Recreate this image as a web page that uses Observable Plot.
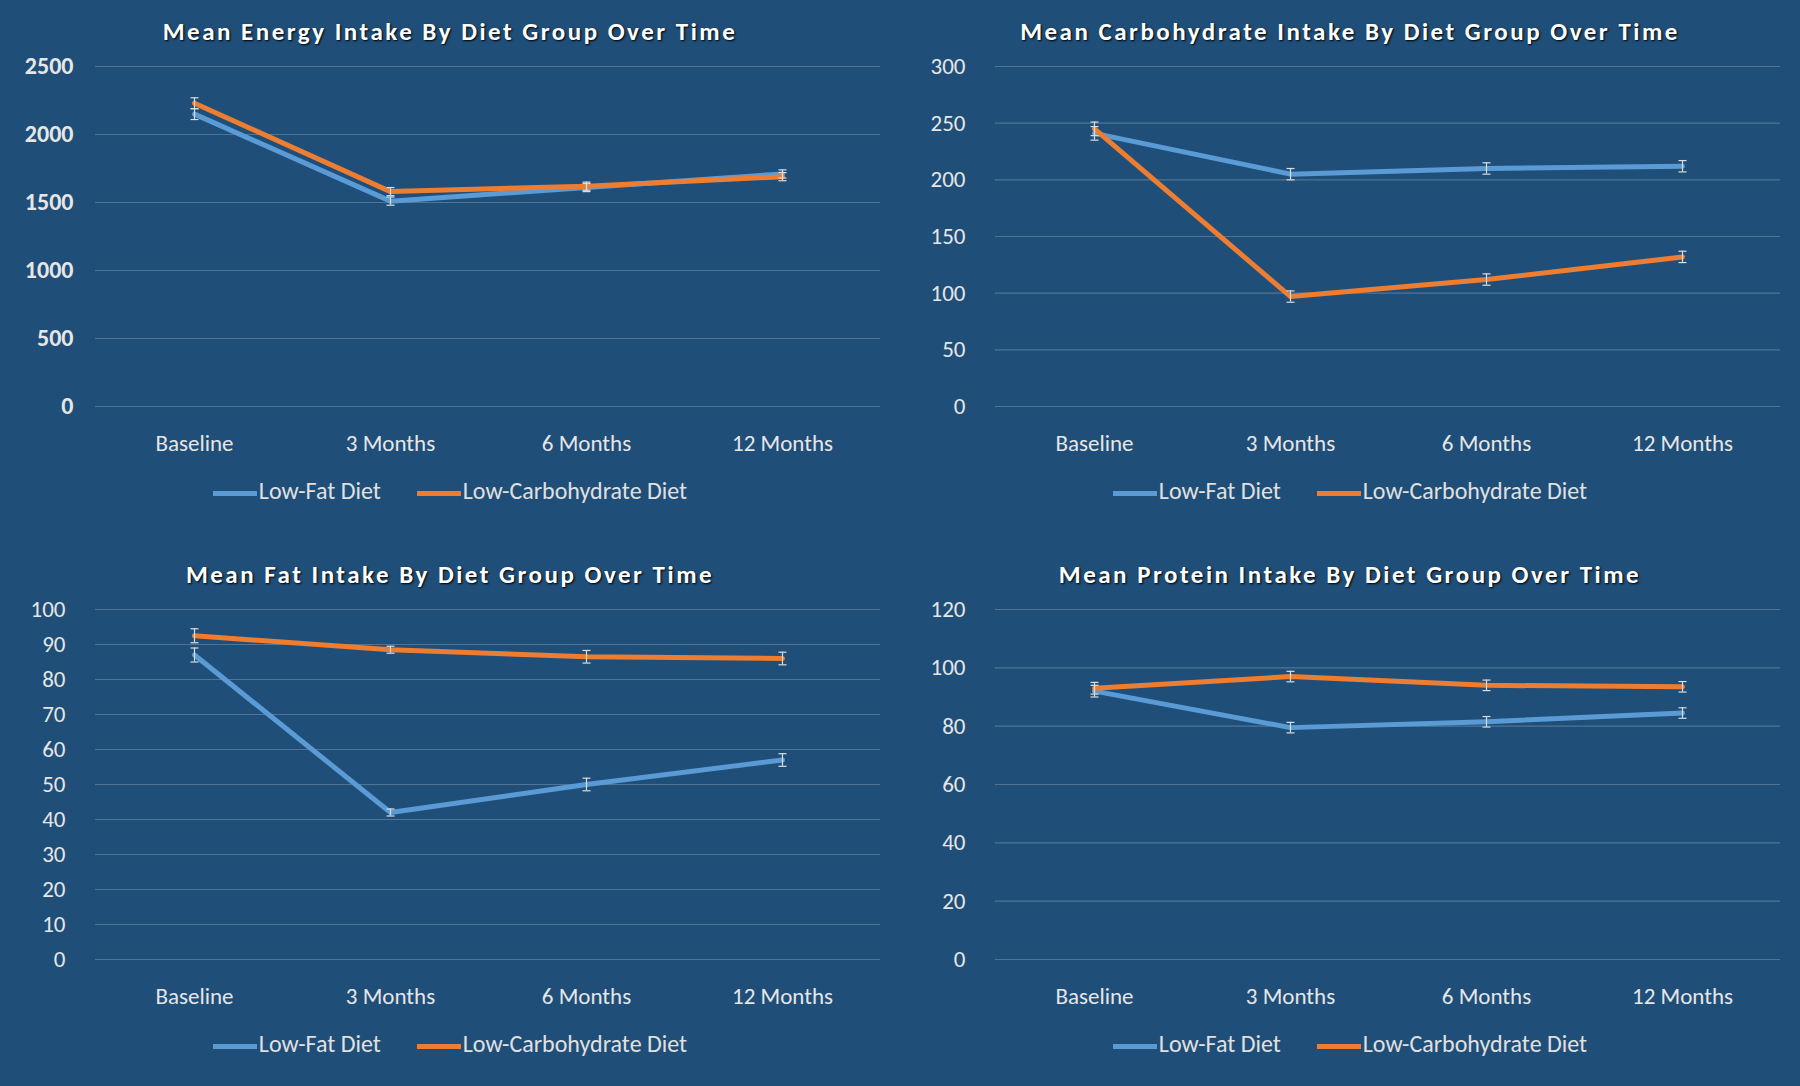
<!DOCTYPE html>
<html><head><meta charset="utf-8">
<script src="https://cdn.jsdelivr.net/npm/d3@7"></script>
<script src="https://cdn.jsdelivr.net/npm/@observablehq/plot@0.6"></script>
<style>
body{margin:0;background:#1f4e79;font-family:Calibri,"Liberation Sans Narrow","Open Sans",sans-serif;}
#grid{display:grid;grid-template-columns:900px 900px;grid-template-rows:543px 543px;width:1800px;height:1086px;}
.panel{position:relative;}
.title{color:#fff;font-weight:bold;font-size:25px;letter-spacing:2.5px;text-align:center;margin-top:16px;height:36px;text-shadow:1px 1px 2px #000;}
.legend{color:#e0e0e0;font-size:24px;text-align:center;margin-top:14px;}
.legend span.sw{display:inline-block;width:44px;height:5px;vertical-align:middle;margin-right:2px;}
.legend .item{margin:0 18px;}
</style></head><body><div id="grid"></div>
<script>
const periods=["Baseline","3 Months","6 Months","12 Months"];
const series=["Low-Fat Diet","Low-Carbohydrate Diet"];
const colors=["#5b9bd5","#ed7d31"];
const titles=["Mean Energy Intake By Diet Group Over Time","Mean Carbohydrate Intake By Diet Group Over Time","Mean Fat Intake By Diet Group Over Time","Mean Protein Intake By Diet Group Over Time"];
const energyLF=[2150,1510,1610,1710], energyLC=[2230,1580,1620,1690], energyErr=[40,30,30,30];
const carbLF=[241,205,210,212], carbLC=[245,97,112,132], carbErr=[6,5,5,5];
const fatLF=[87,42,50,57], fatLC=[92.5,88.5,86.5,86], fatErr=[2,1,1.8,1.8];
const protLF=[92,79.5,81.5,84.5], protLC=[93,97,94,93.5], protErr=[2,1.8,1.8,1.8];
const yTicks=[d3.range(0,2501,500),d3.range(0,301,50),d3.range(0,101,10),d3.range(0,121,20)];
const panels=[[energyLF,energyLC,energyErr],[carbLF,carbLC,carbErr],[fatLF,fatLC,fatErr],[protLF,protLC,protErr]];
const cap={draw(ctx,size){const r=Math.sqrt(size/Math.PI);ctx.moveTo(-r,0);ctx.lineTo(r,0);}};
const font="Calibri,'Liberation Sans Narrow','Open Sans',sans-serif";
panels.forEach(([lf,lc,err],i)=>{
  const data=[];
  [lf,lc].forEach((arr,s)=>arr.forEach((v,k)=>data.push({period:periods[k],series:series[s],v,lo:v-err[k],hi:v+err[k]})));
  const t=yTicks[i];
  const div=document.createElement("div");div.className="panel";
  const ti=document.createElement("div");ti.className="title";ti.textContent=titles[i];div.appendChild(ti);
  const big=i===0;
  const plot=Plot.plot({
    width:900,height:i<2?410:420,marginLeft:95,marginRight:20,marginTop:14,marginBottom:56,
    style:{background:"transparent",color:"#e6e6e6",fontSize:"23px",fontFamily:font},
    x:{type:"point",domain:periods,padding:0.5,label:null,tickSize:0,tickPadding:28},
    y:{domain:[t[0],t[t.length-1]],ticks:t,label:null,tickSize:0,tickPadding:big?22:30,tickFormat:d3.format("d")},
    color:{domain:series,range:colors},
    marks:[
      Plot.gridY(t,{stroke:"#fff",strokeOpacity:0.22,strokeWidth:1.2}),
      Plot.lineY(data,{x:"period",y:"v",z:"series",stroke:"series",strokeWidth:5}),
      Plot.ruleX(data,{x:"period",y1:"lo",y2:"hi",stroke:"#ddd",strokeWidth:1.2}),
      Plot.dot(data,{x:"period",y:"lo",symbol:cap,r:4,stroke:"#ddd",strokeWidth:1.2}),
      Plot.dot(data,{x:"period",y:"hi",symbol:cap,r:4,stroke:"#ddd",strokeWidth:1.2})
    ]
  });
  plot.style.display="block";
  if(big) plot.querySelectorAll("[aria-label='y-axis tick label'] text").forEach(e=>{e.style.fontWeight="bold";e.style.fontSize="24px";});
  div.appendChild(plot);
  const lg=document.createElement("div");lg.className="legend";
  lg.innerHTML=series.map((s,k)=>`<span class="item"><span class="sw" style="background:${colors[k]}"></span>${s}</span>`).join("");
  div.appendChild(lg);
  document.getElementById("grid").appendChild(div);
});
</script></body></html>
